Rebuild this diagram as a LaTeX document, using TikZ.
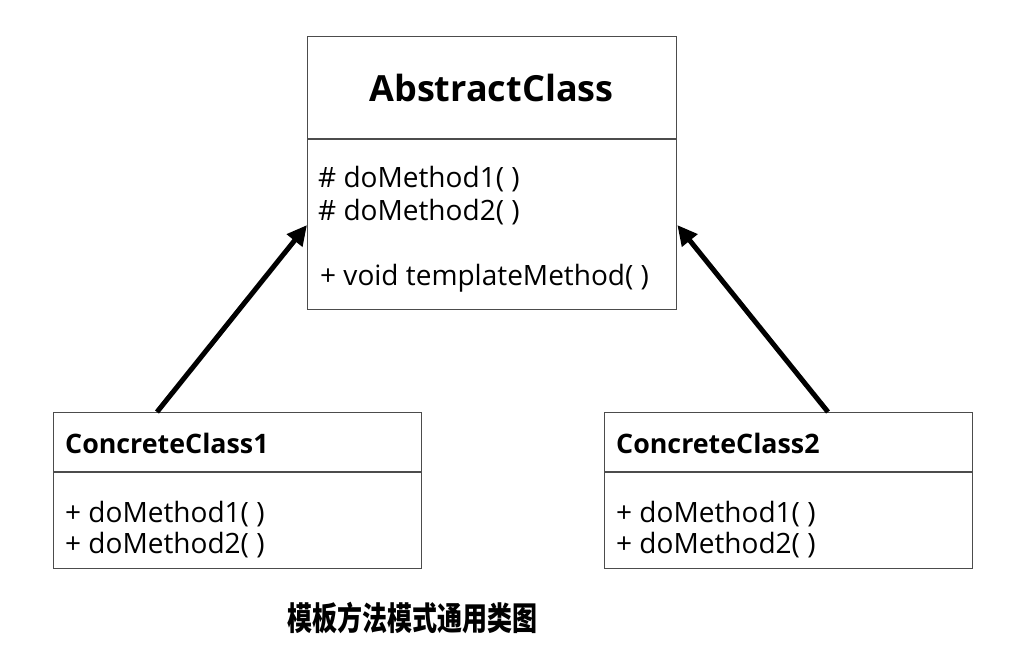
\documentclass[tikz,border=0pt]{standalone}
\usepackage{fontspec}
\setmainfont{Open Sans}
\newfontfamily\cjk{Noto Sans CJK SC}[BoldFont={Noto Sans CJK SC Black}]
\usetikzlibrary{arrows.meta}

\begin{document}
\begin{tikzpicture}[x=1pt, y=-1pt,
  cls/.style={draw=black!70, line width=1.3pt, minimum width=368pt, inner sep=0pt},
  bar/.style={draw=black!70, line width=1.3pt},
  clsname/.style={font=\fontsize{26.8}{32}\selectfont\bfseries, anchor=base west, inner sep=0pt},
  op/.style={font=\fontsize{28}{33}\selectfont, anchor=base west, inner sep=0pt},
  arr/.style={-{Triangle[length=20pt,width=19pt]}, line width=5pt}
]
  \useasboundingbox (0,0) rectangle (1025,646);
  % abstract class
  \node[cls, minimum height=273pt, minimum width=369pt, anchor=north west] (abs) at (307,36) {};
  \draw[bar] ([yshift=-103pt]abs.north west) -- ([yshift=-103pt]abs.north east);
  \node[font=\fontsize{36}{43}\selectfont\bfseries, inner sep=0pt] (absname) at (491.5,88) {AbstractClass};
  \node[op] (absop1) at (318,187) {\# doMethod1( )};
  \node[op] (absop2) at (318,220) {\# doMethod2( )};
  \node[op] (absop3) at (320,285) {+ void templateMethod( )};
  % concrete classes
  \node[cls, minimum height=156pt, anchor=north west] (c1) at (53,412) {};
  \draw[bar] ([yshift=-60pt]c1.north west) -- ([yshift=-60pt]c1.north east);
  \node[clsname] (c1name) at (65,453) {ConcreteClass1};
  \node[op] (c1op1) at (65,522) {+ doMethod1( )};
  \node[op] (c1op2) at (65,553) {+ doMethod2( )};
  \node[cls, minimum height=156pt, anchor=north west] (c2) at (604,412) {};
  \draw[bar] ([yshift=-60pt]c2.north west) -- ([yshift=-60pt]c2.north east);
  \node[clsname] (c2name) at (616,453) {ConcreteClass2};
  \node[op] (c2op1) at (616,522) {+ doMethod1( )};
  \node[op] (c2op2) at (616,553) {+ doMethod2( )};
  % inheritance
  \draw[arr] ([xshift=104pt]c1.north west) -- ([yshift=-189pt]abs.north west);
  \draw[arr] ([xshift=224pt]c2.north west) -- ([yshift=-189pt]abs.north east);
  \node[font=\cjk\fontsize{25}{30}\selectfont\bfseries, inner sep=0pt] (caption) at (412.5,618) {\scalebox{1}[1.3]{模板方法模式通用类图}};
\end{tikzpicture}
\end{document}
